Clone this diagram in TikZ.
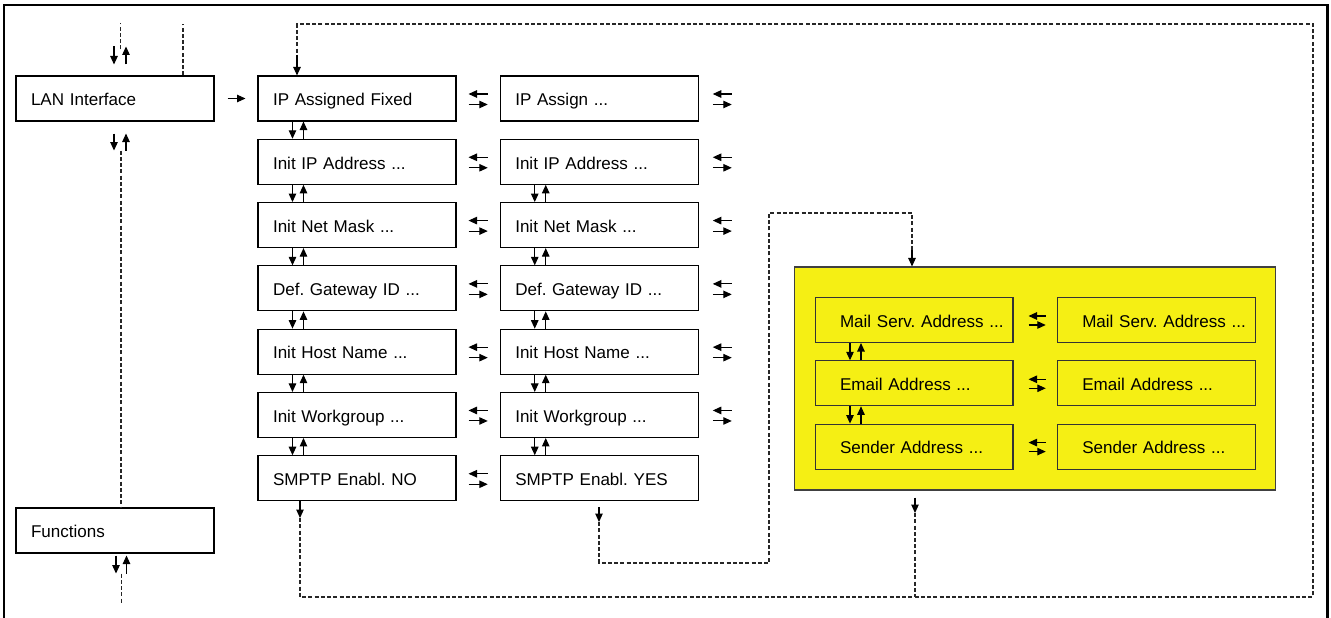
\documentclass[tikz,border=0pt]{standalone}
\usepackage{fontspec}
\setmainfont{Liberation Sans}
\frenchspacing
\usetikzlibrary{arrows.meta,positioning}
\definecolor{mailyellow}{RGB}{245,239,20}

\begin{document}
\begin{tikzpicture}[
  x=0.02cm, y=-0.02cm,
  node distance=0.345cm and 0.865cm,
  menu/.style={draw, rectangle, line width=0.6pt, minimum width=3.96cm, minimum height=0.9cm, inner xsep=0.3cm, text width=3.36cm, text height=8.3pt, text depth=0pt, align=left, font=\fontsize{9.7}{11.6}\selectfont},
  mailmenu/.style={menu, draw=black!80, inner xsep=0.1cm, text width=3.76cm, execute at begin node={\hspace*{0.4cm}}},
  arr/.style={-{Triangle[length=1.7mm,width=1.5mm]}, line width=0.6pt},
  dashline/.style={dashed, dash pattern=on 0.8mm off 0.45mm, line width=0.6pt, black!85}
]
  \useasboundingbox (0,0) rectangle (1331,618);
  \draw[line width=1.7pt] (4,618) -- (4,5) -- (1327,5) -- (1327,618);

  \node[menu] (lan) at (115,98.5) {LAN Interface};
  \node[menu] (func) at (115,530.5) {Functions};

  \node[menu] (a1) at (357,98.5) {IP Assigned Fixed};
  \node[menu,below=of a1] (a2) {Init IP Address ...};
  \node[menu,below=of a2] (a3) {Init Net Mask ...};
  \node[menu,below=of a3] (a4) {Def. Gateway ID ...};
  \node[menu,below=of a4] (a5) {Init Host Name ...};
  \node[menu,below=of a5] (a6) {Init Workgroup ...};
  \node[menu,below=of a6] (a7) {SMPTP Enabl. NO};

  \node[menu,right=of a1] (b1) {IP Assign ...};
  \node[menu,right=of a2] (b2) {Init IP Address ...};
  \node[menu,right=of a3] (b3) {Init Net Mask ...};
  \node[menu,right=of a4] (b4) {Def. Gateway ID ...};
  \node[menu,right=of a5] (b5) {Init Host Name ...};
  \node[menu,right=of a6] (b6) {Init Workgroup ...};
  \node[menu,right=of a7] (b7) {SMPTP Enabl. YES};

  \node[draw=black!75, fill=mailyellow, line width=0.6pt, minimum width=9.64cm, minimum height=4.46cm] (mail) at (1035,378.5) {};
  \node[mailmenu] (m1) at (914,320) {Mail Serv. Address ...};
  \node[mailmenu,below=of m1] (m2) {Email Address ...};
  \node[mailmenu,below=of m2] (m3) {Sender Address ...};
  \node[mailmenu,right=of m1] (n1) {Mail Serv. Address ...};
  \node[mailmenu,right=of m2] (n2) {Email Address ...};
  \node[mailmenu,right=of m3] (n3) {Sender Address ...};

  \draw[arr, shorten <=0.26cm, shorten >=0.24cm] (lan) -- (a1);

  \foreach \i/\j in {1/2,2/3,3/4,4/5,5/6,6/7} {
    \draw[arr] ([xshift=0.7cm]a\i.south west) -- ([xshift=0.7cm]a\j.north west);
    \draw[arr] ([xshift=0.92cm]a\j.north west) -- ([xshift=0.92cm]a\i.south west);
  }
  \foreach \i/\j in {2/3,3/4,4/5,5/6,6/7} {
    \draw[arr] ([xshift=0.7cm]b\i.south west) -- ([xshift=0.7cm]b\j.north west);
    \draw[arr] ([xshift=0.92cm]b\j.north west) -- ([xshift=0.92cm]b\i.south west);
  }
  \foreach \i/\j in {1/2,2/3} {
    \draw[arr] ([xshift=0.71cm]m\i.south west) -- ([xshift=0.71cm]m\j.north west);
    \draw[arr] ([xshift=0.93cm]m\j.north west) -- ([xshift=0.93cm]m\i.south west);
  }

  \foreach \i in {1,...,7} {
    \draw[arr, shorten <=0.24cm, shorten >=0.24cm] ([yshift=0.09cm]b\i.west) -- ([yshift=0.09cm]a\i.east);
    \draw[arr, shorten <=0.24cm, shorten >=0.24cm] ([yshift=-0.12cm]a\i.east) -- ([yshift=-0.12cm]b\i.west);
  }
  \foreach \i in {1,...,6} {
    \draw[arr] ([xshift=0.66cm,yshift=0.09cm]b\i.east) -- ([xshift=0.28cm,yshift=0.09cm]b\i.east);
    \draw[arr] ([xshift=0.28cm,yshift=-0.12cm]b\i.east) -- ([xshift=0.66cm,yshift=-0.12cm]b\i.east);
  }
  \foreach \i in {1,2,3} {
    \draw[arr, shorten <=0.22cm, shorten >=0.3cm] ([yshift=0.08cm]n\i.west) -- ([yshift=0.08cm]m\i.east);
    \draw[arr, shorten <=0.3cm, shorten >=0.22cm] ([yshift=-0.1cm]m\i.east) -- ([yshift=-0.1cm]n\i.west);
  }

  \draw[dashline] ([xshift=0.11cm,yshift=0.52cm]lan.north) -- ([xshift=0.11cm,yshift=1.04cm]lan.north);
  \draw[arr] ([xshift=-0.02cm,yshift=0.58cm]lan.north) -- ([xshift=-0.02cm,yshift=0.22cm]lan.north);
  \draw[arr] ([xshift=0.22cm,yshift=0.22cm]lan.north) -- ([xshift=0.22cm,yshift=0.58cm]lan.north);
  \draw[arr] ([xshift=-0.02cm,yshift=-0.24cm]lan.south) -- ([xshift=-0.02cm,yshift=-0.58cm]lan.south);
  \draw[arr] ([xshift=0.22cm,yshift=-0.58cm]lan.south) -- ([xshift=0.22cm,yshift=-0.24cm]lan.south);
  \draw[dashline] ([xshift=0.12cm,yshift=-0.58cm]lan.south) -- ([xshift=0.12cm]func.north);
  \draw[arr] ([xshift=0.02cm,yshift=-0.04cm]func.south) -- ([xshift=0.02cm,yshift=-0.4cm]func.south);
  \draw[arr] ([xshift=0.23cm,yshift=-0.4cm]func.south) -- ([xshift=0.23cm,yshift=-0.04cm]func.south);
  \draw[dashline] ([xshift=0.13cm,yshift=-0.4cm]func.south) -- ([xshift=0.13cm,yshift=-0.98cm]func.south);

  \coordinate (nodrop) at (300,518);
  \coordinate (loopbr) at (1313,597);
  \coordinate (looptr) at (1313,24);
  \coordinate (ipin) at (297,55);
  \coordinate (lanup) at (183,24);
  \draw[arr] (a7.south -| nodrop) -- (nodrop);
  \draw[dashline] (nodrop) |- (loopbr) -- (looptr) -| (ipin);
  \draw[arr] (ipin) -- (ipin |- a1.north);
  \draw[dashline] (lan.north -| lanup) -- (lanup);

  \coordinate (maildrop) at (915,513);
  \draw[arr] ([yshift=-0.14cm]mail.south -| maildrop) -- (maildrop);
  \draw[dashline] (maildrop) -- (maildrop |- loopbr);

  \coordinate (yesdrop) at (599,522);
  \coordinate (yescorner) at (769,563);
  \coordinate (mailtop) at (769,213);
  \coordinate (mailin) at (912,250);
  \draw[arr] ([yshift=-0.12cm]b7.south -| yesdrop) -- (yesdrop);
  \draw[dashline] (yesdrop) |- (yescorner) -- (mailtop) -| (mailin);
  \draw[arr] (mailin) -- (mailin |- mail.north);
\end{tikzpicture}
\end{document}
